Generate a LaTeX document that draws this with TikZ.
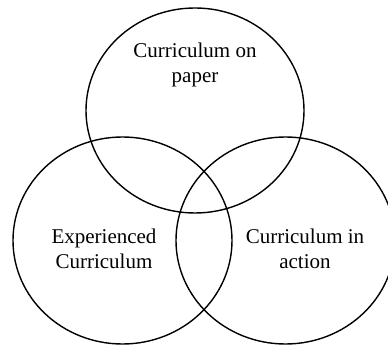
\documentclass[tikz,border=0pt]{standalone}
\usepackage{fontspec}
\setmainfont{Liberation Serif}
\newfontfamily\lblfont{Liberation Serif}
\usepackage{tikz}

\begin{document}
\begin{tikzpicture}[x=1pt, y=1pt, line width=1.4pt,
    lbl/.style={draw=none, align=center, inner sep=0pt,
        font=\lblfont\fontsize{21}{25}\selectfont}]
            \useasboundingbox (0, 0) rectangle (388, 345);

            \draw (195, 234.5) ellipse (109 and 102.5);
            \draw (122.5, 104.5) ellipse (109.5 and 103.5);
            \draw (285.5, 104.5) ellipse (109.5 and 103.5);

            \node[lbl] (paper) at (195, 280) {Curriculum on\\paper};
            \node[lbl] (experienced) at (104, 96) {Experienced\\Curriculum};
            \node[lbl] (action) at (305, 96) {Curriculum in\\action};
            \end{tikzpicture}
\end{document}
